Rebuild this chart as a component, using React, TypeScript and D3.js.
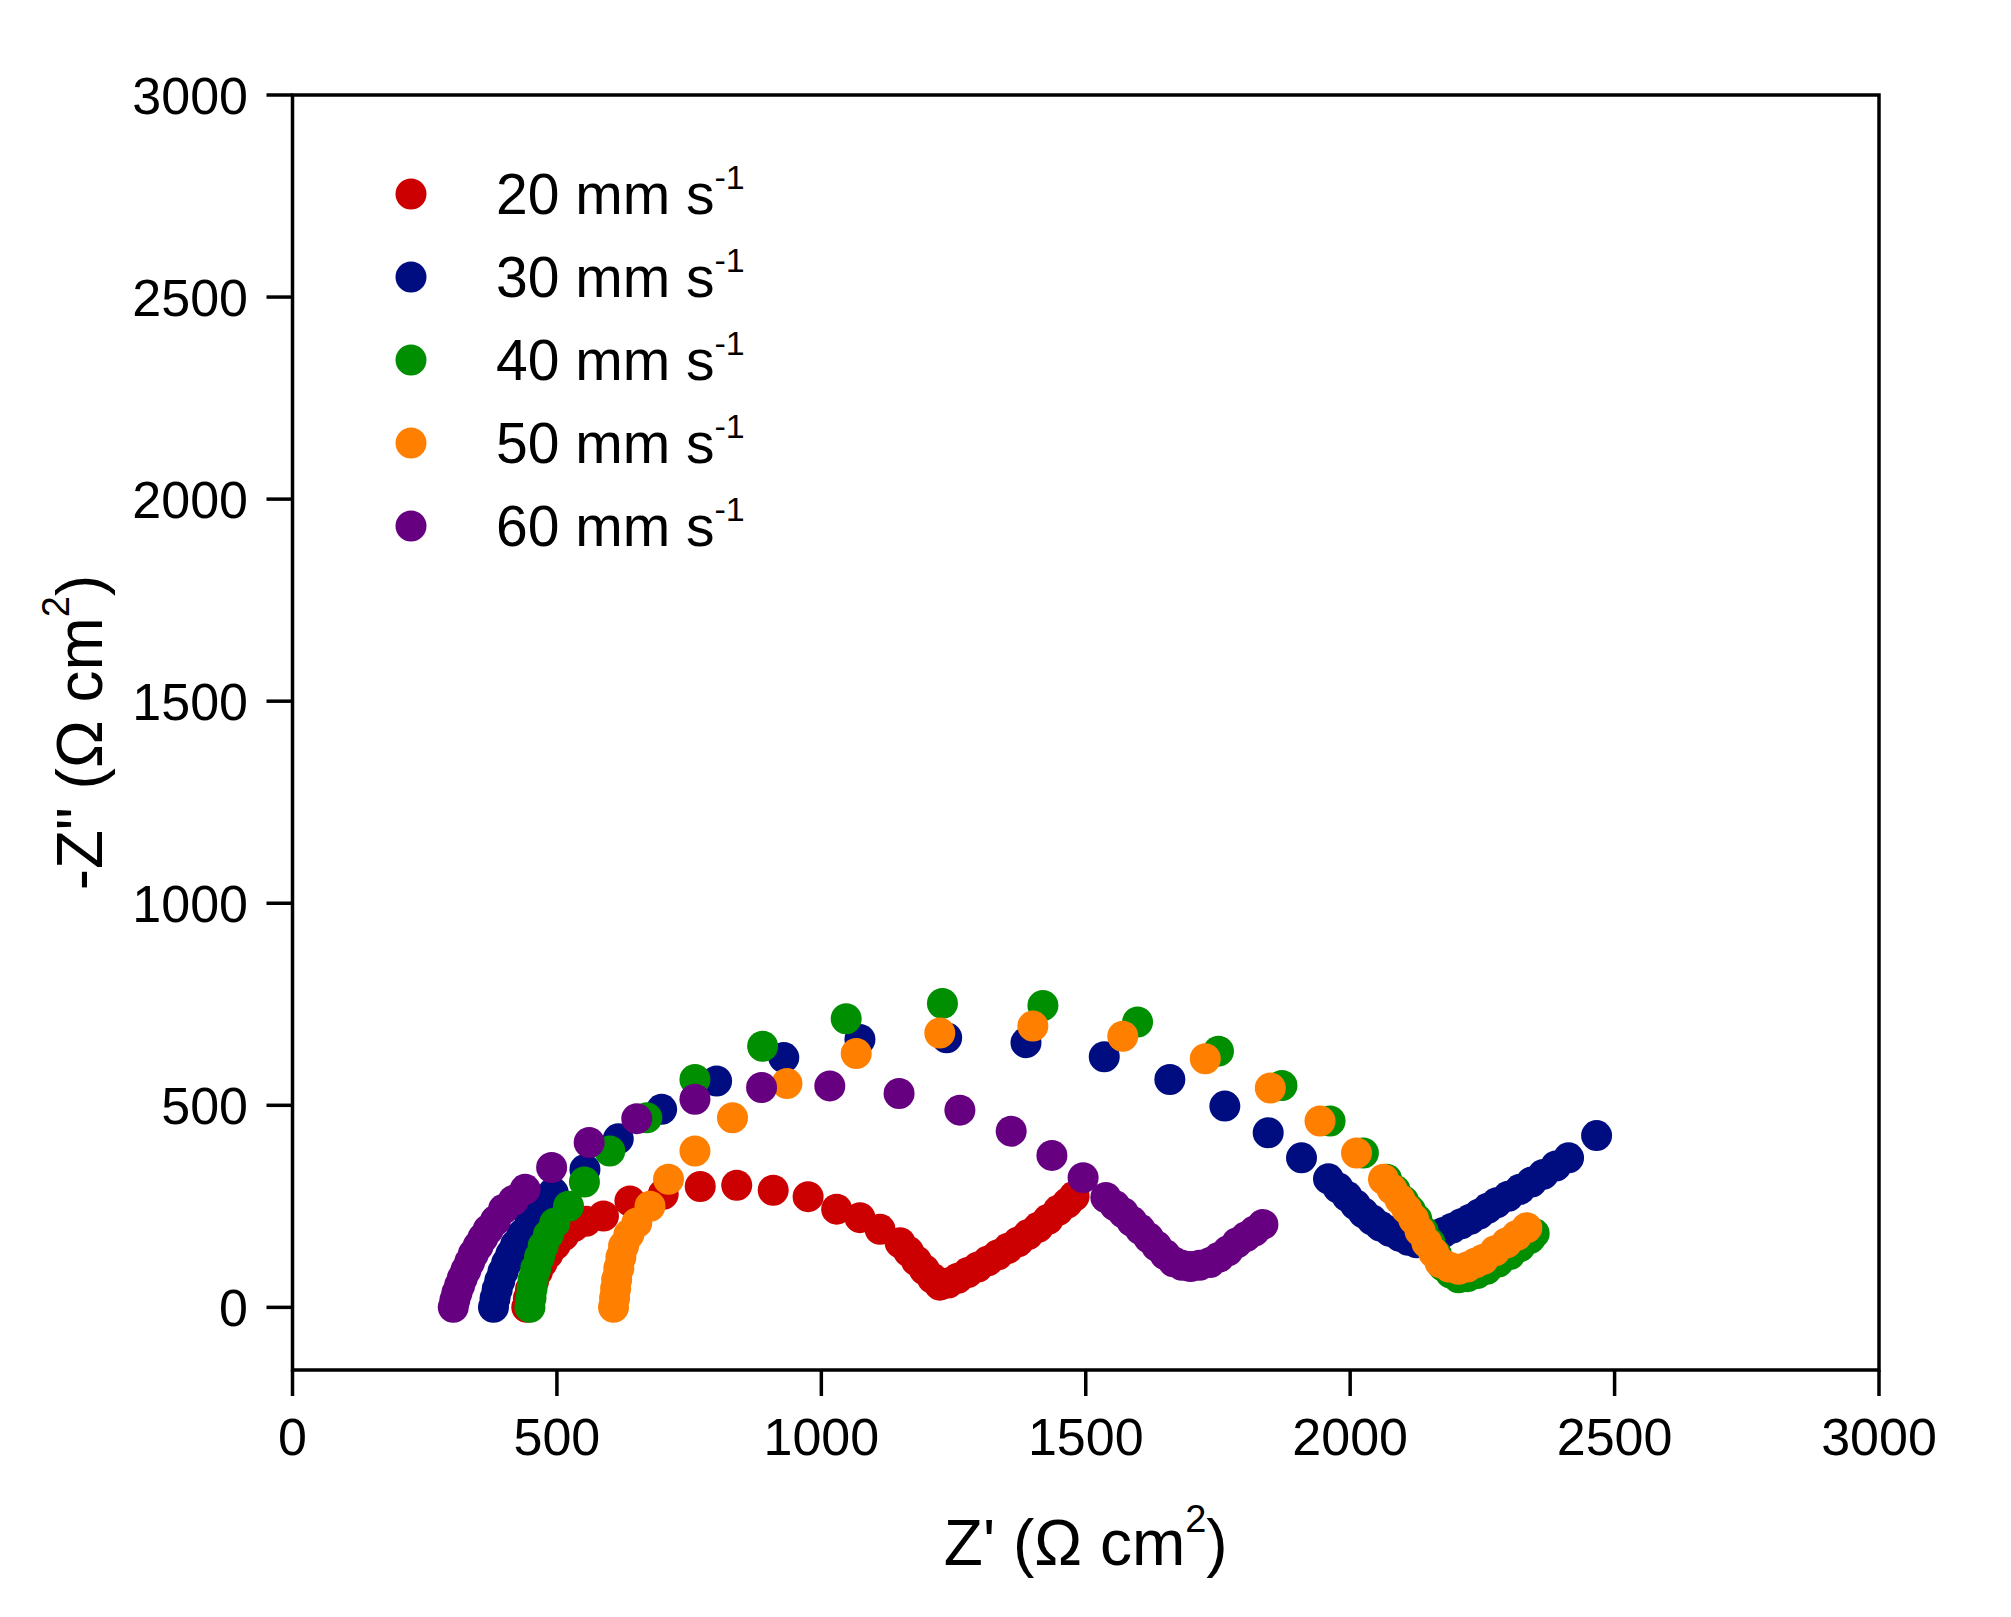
import React from "react";
import * as d3 from "d3";

// ---- data ----
const seriesLabels = ["20 mm s", "30 mm s", "40 mm s", "50 mm s", "60 mm s"];
const seriesColors = ["#cc0000", "#000d80", "#008f00", "#ff8000", "#660080"];

const s20: [number, number][] = [
  [443, 0], [446, 22], [450, 44], [456, 66], [463, 88], [472, 110], [483, 132], [497, 155], [513, 178],
  [532, 200], [555, 213], [588, 226], [638, 263], [701, 280], [771, 299], [840, 302], [909, 290], [975, 274],
  [1029, 243], [1073, 222], [1111, 193], [1149, 160], [1165, 138], [1180, 115], [1195, 93], [1210, 72],
  [1224, 55], [1240, 60], [1258, 72], [1277, 86], [1296, 100], [1315, 115], [1334, 130], [1353, 146],
  [1372, 162], [1391, 180], [1410, 198], [1429, 218], [1448, 240], [1465, 258], [1478, 275],
];
const s30: [number, number][] = [
  [380, 0], [383, 22], [387, 44], [392, 66], [398, 88], [405, 110], [413, 132], [422, 155], [434, 180],
  [449, 210], [470, 250], [493, 284], [553, 341], [616, 417], [698, 490], [802, 560], [929, 618],
  [1073, 663], [1237, 667], [1387, 655], [1535, 620], [1659, 564], [1763, 498], [1845, 432], [1908, 370],
  [1959, 318], [1977, 296], [1994, 275], [2010, 254], [2025, 234], [2041, 217], [2057, 201], [2075, 188],
  [2094, 176], [2110, 166], [2126, 160], [2142, 166], [2159, 175], [2176, 185], [2193, 196], [2210, 207],
  [2227, 218], [2244, 231], [2260, 245], [2277, 259], [2299, 275], [2321, 292], [2343, 310], [2365, 329],
  [2389, 350], [2413, 370], [2466, 425],
];
const s40: [number, number][] = [
  [449, 0], [451, 23], [453, 46], [455, 69], [460, 96], [467, 124], [474, 152], [484, 180], [496, 209],
  [522, 250], [552, 310], [600, 387], [670, 469], [761, 564], [889, 646], [1047, 714], [1229, 752],
  [1419, 747], [1598, 706], [1751, 634], [1871, 549], [1962, 461], [2025, 382], [2069, 317], [2085, 290],
  [2101, 263], [2114, 240], [2126, 218], [2138, 189], [2151, 160], [2163, 131], [2176, 102], [2190, 85],
  [2205, 73], [2222, 76], [2240, 84], [2258, 94], [2280, 112], [2302, 131], [2321, 150], [2340, 170],
  [2348, 183],
];
const s50: [number, number][] = [
  [607, 0], [609, 23], [611, 46], [613, 69], [617, 97], [621, 124], [626, 152], [636, 180], [651, 209],
  [676, 250], [711, 317], [761, 387], [832, 469], [935, 554], [1066, 628], [1224, 679], [1400, 696],
  [1570, 671], [1726, 615], [1849, 543], [1943, 461], [2012, 382], [2063, 317], [2079, 292], [2094, 267],
  [2107, 243], [2120, 218], [2132, 189], [2145, 160], [2158, 135], [2170, 111], [2187, 100], [2205, 94],
  [2221, 100], [2237, 110], [2252, 119], [2274, 140], [2296, 160], [2315, 178], [2334, 197],
];
const s60: [number, number][] = [
  [304, 0], [307, 18], [311, 36], [316, 54], [321, 72], [328, 92], [335, 112], [342, 132], [351, 152],
  [360, 172], [370, 192], [384, 215], [399, 243], [418, 265], [440, 292], [490, 346], [561, 408],
  [651, 467], [761, 515], [887, 544], [1016, 548], [1147, 529], [1262, 488], [1359, 436], [1436, 376],
  [1495, 321], [1538, 272], [1555, 252], [1571, 234], [1587, 213], [1603, 193], [1619, 172], [1634, 152],
  [1650, 131], [1666, 113], [1682, 104], [1698, 101], [1715, 104], [1735, 111], [1752, 124], [1769, 140],
  [1786, 160], [1803, 175], [1819, 189], [1835, 205],
];
const allSeries = [s20, s30, s40, s50, s60];

const xTicks = [0, 500, 1000, 1500, 2000, 2500, 3000];
const yTicks = [0, 500, 1000, 1500, 2000, 2500, 3000];

// ---- layout ----
const W = 2011;
const H = 1617;
const left = 292.5;
const right = 1879;
const top = 95;
const bottom = 1370;
const FONT = "'Liberation Sans', Arial, Helvetica, sans-serif";

export default function App() {
  const x = d3.scaleLinear().domain([0, 3000]).range([left, right]);
  const y = d3.scaleLinear().domain([-155, 3000]).range([bottom, top]);
  const r = 15.5;
  const lw = 3.5;
  const tickLen = 26;

  return (
    <div style={{ position: "absolute", left: 0, top: 0 }}>
      <svg width={W} height={H} viewBox={`0 0 ${W} ${H}`} style={{ display: "block", background: "#fff" }}>
        <rect x={0} y={0} width={W} height={H} fill="#fff" />
        {/* data */}
        <g>
          {allSeries.map((pts, si) => (
            <g key={si} fill={seriesColors[si]}>
              {pts.map((p, i) => (
                <circle key={i} cx={x(p[0])} cy={y(p[1])} r={r} />
              ))}
            </g>
          ))}
        </g>

        {/* frame */}
        <rect x={left} y={top} width={right - left} height={bottom - top} fill="none" stroke="#000" strokeWidth={lw} />

        {/* y ticks */}
        {yTicks.map((t) => (
          <g key={"y" + t}>
            <line x1={left - tickLen} x2={left} y1={y(t)} y2={y(t)} stroke="#000" strokeWidth={lw} />
            <text x={248} y={y(t) + 19} textAnchor="end" fontFamily={FONT} fontSize={52} fill="#000">
              {t}
            </text>
          </g>
        ))}

        {/* x ticks */}
        {xTicks.map((t) => (
          <g key={"x" + t}>
            <line x1={x(t)} x2={x(t)} y1={bottom} y2={bottom + tickLen} stroke="#000" strokeWidth={lw} />
            <text x={x(t)} y={1455} textAnchor="middle" fontFamily={FONT} fontSize={52} fill="#000">
              {t}
            </text>
          </g>
        ))}

        {/* axis titles */}
        <text x={(left + right) / 2} y={1565} textAnchor="middle" fontFamily={FONT} fontSize={64} fill="#000">
          Z' (Ω cm
          <tspan fontSize={38} dy={-33}>2</tspan>
          <tspan dy={33}>)</tspan>
        </text>
        <text
          transform={`translate(102, ${(top + bottom) / 2}) rotate(-90)`}
          textAnchor="middle"
          fontFamily={FONT}
          fontSize={64}
          fill="#000"
        >
          -Z" (Ω cm
          <tspan fontSize={38} dy={-33}>2</tspan>
          <tspan dy={33}>)</tspan>
        </text>

        {/* legend */}
        {seriesLabels.map((lab, i) => {
          const cy = 194 + i * 83;
          return (
            <g key={"l" + i}>
              <circle cx={411} cy={cy} r={r} fill={seriesColors[i]} />
              <text x={496} y={cy + 20} fontFamily={FONT} fontSize={57} fill="#000">
                {lab}
                <tspan fontSize={34} dy={-25}>-1</tspan>
              </text>
            </g>
          );
        })}
      </svg>
    </div>
  );
}
